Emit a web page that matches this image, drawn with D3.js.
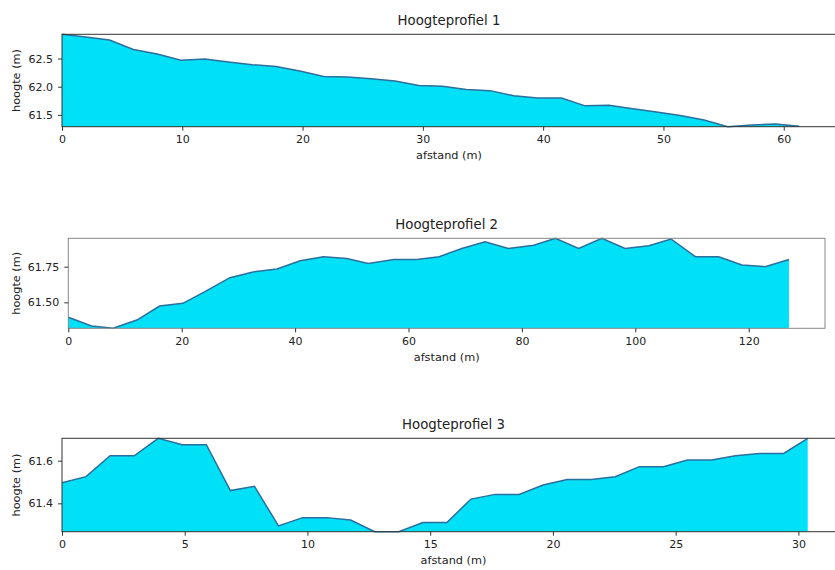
<!DOCTYPE html>
<html>
<head>
  <title>Hoogteprofielen</title>
  <style>
    body { margin: 0; background: #fff; }
    text { font-family: "DejaVu Sans", sans-serif; fill: #222; }
    .tick text { font-size: 11px; }
    .area { fill: #00e1f8; }
    .line { fill: none; stroke: #2a6f9e; stroke-width: 1.5; }
  </style>
</head>
<body>
  <script src="https://d3js.org/d3.v7.min.js"></script>
  <script>
    // Profiel 1
    var afstand1 = [0, 1.98, 3.95, 5.93, 7.91, 9.89, 11.86, 13.84, 15.82, 17.79, 19.77, 21.75,
      23.72, 25.70, 27.68, 29.66, 31.63, 33.61, 35.59, 37.56, 39.54, 41.52, 43.49, 45.47,
      47.45, 49.42, 51.40, 53.38, 55.35, 57.33, 59.31, 61.28];
    var hoogte1 = [62.93, 62.88, 62.83, 62.66, 62.58, 62.47, 62.49, 62.44, 62.39, 62.36, 62.28, 62.18,
      62.17, 62.14, 62.10, 62.02, 62.01, 61.95, 61.93, 61.84, 61.80, 61.80, 61.66, 61.67,
      61.61, 61.55, 61.49, 61.41, 61.29, 61.32, 61.34, 61.30];
    var xticks1 = [0, 10, 20, 30, 40, 50, 60];
    var yticks1 = [61.5, 62.0, 62.5];

    // Profiel 2
    var afstand2 = [0, 4.1, 7.9, 12.1, 16.1, 20.2, 24.1, 28.5, 32.6, 36.8, 40.9, 45.0,
      49.1, 52.9, 57.4, 61.5, 65.4, 69.4, 73.5, 77.6, 82.1, 85.9, 90.0, 94.1,
      98.2, 102.4, 106.3, 110.6, 114.7, 118.8, 122.9, 127.1];
    var hoogte2 = [61.395, 61.334, 61.318, 61.376, 61.474, 61.493, 61.575, 61.673, 61.713, 61.734, 61.792, 61.820,
      61.808, 61.773, 61.800, 61.800, 61.820, 61.878, 61.925, 61.878, 61.900, 61.949, 61.878, 61.949,
      61.878, 61.897, 61.944, 61.820, 61.820, 61.762, 61.750, 61.800];
    var xticks2 = [0, 20, 40, 60, 80, 100, 120];
    var yticks2 = [61.50, 61.75];

    // Profiel 3
    var afstand3 = [0, 0.98, 1.96, 2.94, 3.92, 4.90, 5.88, 6.86, 7.84, 8.82, 9.80, 10.78,
      11.76, 12.74, 13.72, 14.70, 15.68, 16.66, 17.64, 18.62, 19.60, 20.58, 21.56, 22.54,
      23.52, 24.50, 25.48, 26.46, 27.44, 28.42, 29.40, 30.38];
    var hoogte3 = [61.497, 61.525, 61.623, 61.623, 61.705, 61.675, 61.675, 61.460, 61.480, 61.294, 61.333, 61.333,
      61.322, 61.267, 61.267, 61.310, 61.310, 61.420, 61.442, 61.442, 61.486, 61.512, 61.512, 61.525,
      61.572, 61.572, 61.603, 61.603, 61.623, 61.634, 61.634, 61.705];
    var xticks3 = [0, 5, 10, 15, 20, 25, 30];
    var yticks3 = [61.4, 61.6];

    var titels = ["Hoogteprofiel 1", "Hoogteprofiel 2", "Hoogteprofiel 3"];

    var svg = d3.select("body").append("svg")
      .attr("width", 835)
      .attr("height", 570);

    // plaats van de drie assenstelsels
    var panels = [
      { x: afstand1, y: hoogte1, xt: xticks1, yt: yticks1, fmt: ".1f", left: 62, right: 836, top: 34.3, bottom: 126.7, frame: "#333" },
      { x: afstand2, y: hoogte2, xt: xticks2, yt: yticks2, fmt: ".2f", left: 68.3, right: 825, top: 238.3, bottom: 328.3, frame: "#888" },
      { x: afstand3, y: hoogte3, xt: xticks3, yt: yticks3, fmt: ".1f", left: 62, right: 845, top: 438.3, bottom: 531.7, frame: "#333" }
    ];

    panels.forEach(function (p, k) {
      var data = p.x.map(function (d, i) { return { x: d, y: p.y[i] }; });
      var xmax = d3.max(p.x) * 1.05;
      var x = d3.scaleLinear().domain([0, xmax]).range([p.left, p.right]);
      var y = d3.scaleLinear().domain(d3.extent(p.y)).range([p.bottom, p.top]);

      var area = d3.area()
        .x(function (d) { return x(d.x); })
        .y0(p.bottom)
        .y1(function (d) { return y(d.y); });
      var line = d3.line()
        .x(function (d) { return x(d.x); })
        .y(function (d) { return y(d.y); });

      svg.append("path").datum(data).attr("class", "area").attr("d", area);
      svg.append("path").datum(data).attr("class", "line").attr("d", line);

      // kader
      svg.append("rect")
        .attr("x", p.left).attr("y", p.top)
        .attr("width", p.right - p.left).attr("height", p.bottom - p.top)
        .attr("fill", "none").attr("stroke", p.frame).attr("stroke-width", 1);

      var xa = svg.append("g")
        .attr("transform", "translate(0," + p.bottom + ")")
        .call(d3.axisBottom(x).tickValues(p.xt).tickFormat(d3.format("d")).tickSize(4).tickPadding(5));
      var ya = svg.append("g")
        .attr("transform", "translate(" + p.left + ",0)")
        .call(d3.axisLeft(y).tickValues(p.yt).tickFormat(d3.format(p.fmt)).tickSize(4).tickPadding(5));
      [xa, ya].forEach(function (a) {
        a.select(".domain").remove();
        a.selectAll(".tick line").attr("stroke", "#333");
        a.selectAll(".tick text").attr("fill", "#222");
      });

      var cx = (p.left + p.right) / 2;
      svg.append("text")
        .attr("x", cx).attr("y", p.top - 9)
        .attr("text-anchor", "middle")
        .style("font-size", "13.3px")
        .text(titels[k]);

      svg.append("text")
        .attr("x", cx).attr("y", p.bottom + 32.5)
        .attr("text-anchor", "middle")
        .style("font-size", "11.3px")
        .text("afstand (m)");

      svg.append("text")
        .attr("transform", "translate(19.5," + (p.top + p.bottom) / 2 + ") rotate(-90)")
        .attr("text-anchor", "middle")
        .style("font-size", "11.3px")
        .text("hoogte (m)");
    });
  </script>
</body>
</html>
